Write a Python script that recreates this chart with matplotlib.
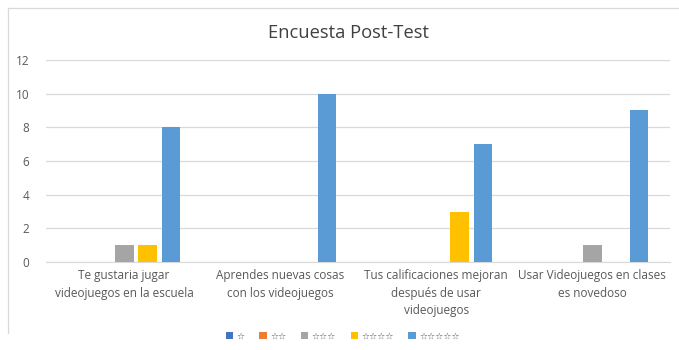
import matplotlib.pyplot as plt
import numpy as np
from matplotlib.lines import Line2D

categories = [
    "Te gustaria jugar\nvideojuegos en la escuela",
    "Aprendes nuevas cosas\ncon los videojuegos",
    "Tus calificaciones mejoran\ndespués de usar\nvideojuegos",
    "Usar Videojuegos en clases\nes novedoso",
]
series_labels = ["☆", "☆☆", "☆☆☆", "☆☆☆☆", "☆☆☆☆☆"]
series_colors = ["#4472C4", "#ED7D31", "#A5A5A5", "#FFC000", "#5B9BD5"]
star1 = [0, 0, 0, 0]
star2 = [0, 0, 0, 0]
star3 = [1, 0, 0, 1]
star4 = [1, 0, 3, 0]
star5 = [8, 10, 7, 9]
values = [star1, star2, star3, star4, star5]

plt.rcParams['font.family'] = ['Open Sans', 'DejaVu Sans']
txt = "#595959"

fig = plt.figure(figsize=(6.79, 3.5), dpi=100)
ax = fig.add_axes([0.068, 0.251, 0.919, 0.578])

x = np.arange(len(categories))
slot = 0.15
width = 0.12
for i, (vals, lab, col) in enumerate(zip(values, series_labels, series_colors)):
    ax.bar(x + (i - 2) * slot, vals, width, color=col, label=lab, zorder=3)

ax.set_xlim(-0.5, 3.5)
ax.set_ylim(0, 12)
ax.set_yticks(range(0, 13, 2))
ax.set_xticks(x)
ax.set_xticklabels(categories, fontsize=8.5, color=txt, linespacing=1.45)
ax.tick_params(axis='y', labelsize=8.5, labelcolor=txt, length=0, pad=12)
ax.tick_params(axis='x', length=0, pad=5)
ax.grid(axis='y', color="#d9d9d9", lw=0.9, zorder=0)
for s in ["top", "right", "left"]:
    ax.spines[s].set_visible(False)
ax.spines["bottom"].set_color("#d9d9d9")

fig.text(0.513, 0.905, "Encuesta Post-Test", ha="center", va="center",
         fontsize=13.2, color="#404040")

ax.legend(loc="center", bbox_to_anchor=(0.505, 0.04), bbox_transform=fig.transFigure,
          ncol=5, frameon=False, fontsize=6.5, handlelength=0.8, handleheight=0.8,
          handletextpad=0.4, columnspacing=1.6, labelcolor=txt)

# light chart-area frame
fig.add_artist(Line2D([8 / 679, 8 / 679], [1 - 8 / 350, 1 - 333 / 350],
                      color="#d9d9d9", lw=0.9, transform=fig.transFigure))
fig.add_artist(Line2D([8 / 679, 1], [1 - 8 / 350, 1 - 8 / 350],
                      color="#d9d9d9", lw=0.9, transform=fig.transFigure))

fig.savefig("out.png", dpi=100)
